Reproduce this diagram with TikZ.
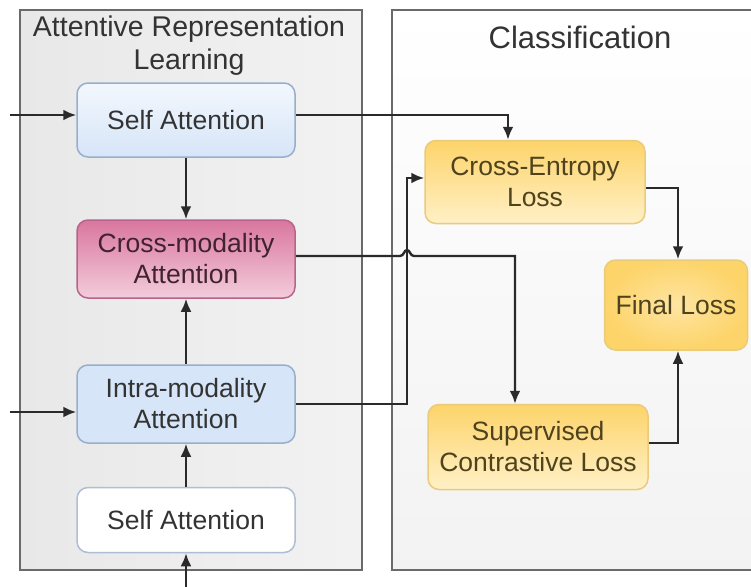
\documentclass[tikz,border=0pt]{standalone}
\usepackage{fontspec}
\setmainfont{Liberation Sans}
\usetikzlibrary{arrows.meta,calc}
\definecolor{linec}{HTML}{2A2A2A}
\definecolor{framec}{HTML}{6A6A6A}
\definecolor{txtc}{HTML}{333333}
\definecolor{bluebd}{HTML}{98AECB}
\definecolor{bluefill}{HTML}{D6E5F8}
\definecolor{pinktop}{HTML}{D9769E}
\definecolor{pinkbot}{HTML}{F3CCDB}
\definecolor{pinkbd}{HTML}{B8648A}
\definecolor{yeltop}{HTML}{FDD46A}
\definecolor{yelbot}{HTML}{FFF0C6}
\definecolor{yelbd}{HTML}{E9CB7A}
\definecolor{yeltxt}{HTML}{4F431E}
\tikzset{
  x=1pt, y=-1pt,
  box/.style={rectangle, rounded corners=11pt, line width=1.5pt, align=center,
    font=\fontsize{26.5}{31}\selectfont, text=txtc, inner sep=0pt},
  bluebox/.style={box, draw=bluebd, top color=white!70!bluefill, bottom color=bluefill},
  intrabox/.style={box, draw=bluebd, fill=bluefill},
  whitebox/.style={box, draw=bluebd!80, fill=white},
  pinkbox/.style={box, draw=pinkbd, top color=pinktop, bottom color=pinkbot, text=black!70!pinktop},
  yelbox/.style={box, draw=yelbd, top color=yeltop, bottom color=yelbot, text=yeltxt},
  finbox/.style={box, draw=yelbd, inner color=yelbot!60!yeltop, outer color=yeltop, text=yeltxt},
  arr/.style={draw=linec, line width=2.4pt, -{Latex[length=13pt,width=11pt]}},
  frame/.style={draw=framec, line width=2.2pt},
  title/.style={align=center, text=txtc, inner sep=0pt}
}
\begin{document}
\begin{tikzpicture}
\useasboundingbox (0,0) rectangle (751,586);
\clip (0,0) rectangle (751,586);
\fill[white] (0,0) rectangle (751,586);
% containers
\shade[left color=black!9, right color=black!5] (20,10) rectangle (362,570);
\draw[frame] (20,10) rectangle (362,570);
\shade[top color=white, bottom color=black!5] (392,10) rectangle (760,570);
\draw[frame] (760,10) -- (392,10) -- (392,570) -- (760,570);
\node[title, font=\fontsize{28.5}{33}\selectfont] (t1) at (189,46) {Attentive Representation\\Learning};
\node[title, font=\fontsize{31}{36}\selectfont] (t2) at (580,37) {Classification};
% boxes
\node[bluebox, minimum width=218pt, minimum height=74pt] (SA1) at (186,120) {Self Attention};
\node[pinkbox, minimum width=218pt, minimum height=78pt] (CM) at (186,259) {Cross-modality\\Attention};
\node[intrabox, minimum width=218pt, minimum height=78pt] (IM) at (186,404) {Intra-modality\\Attention};
\node[whitebox, minimum width=218pt, minimum height=65pt] (SB) at (186,520) {Self Attention};
\node[yelbox, minimum width=220pt, minimum height=83pt] (CE) at (535,182) {Cross-Entropy\\Loss};
\node[yelbox, minimum width=220pt, minimum height=85pt] (SC) at (538,447) {Supervised\\Contrastive Loss};
\node[finbox, minimum width=143pt, minimum height=90pt] (FL) at (676,305) {Final Loss};
% free ends
\coordinate (in1) at (10,115);
\coordinate (in2) at (10,412);
\coordinate (in3) at (186,590);
\coordinate (hop) at (407,256);
% connectors
\draw[arr] (in1) -- (in1 -| SA1.west);
\draw[arr] (in2) -- (in2 -| IM.west);
\draw[arr] (in3) -- (SB.south);
\draw[arr] (SA1.south) -- (CM.north);
\draw[arr] (SB.north) -- (IM.south);
\draw[arr] (IM.north) -- (CM.south);
\draw[arr] ([yshift=5pt]SA1.east) -| ([xshift=-27pt]CE.north);
\draw[arr] (IM.east) -| ($(hop |- CE.west)+(0,-4)$) -- ([yshift=4pt]CE.west);
\draw[arr] ([yshift=3pt]CM.east) -- ($(hop)+(-7,0)$)
   .. controls ($(hop)+(-3,0)$) and ($(hop)+(-3,-6)$) .. ($(hop)+(0,-6)$)
   .. controls ($(hop)+(3,-6)$) and ($(hop)+(3,0)$) .. ($(hop)+(7,0)$)
   -| ([xshift=-23pt]SC.north);
\draw[arr] ([yshift=-6pt]CE.east) -| ([xshift=2pt]FL.north);
\draw[arr] ([yshift=4pt]SC.east) -| ([xshift=2pt]FL.south);
\end{tikzpicture}
\end{document}
